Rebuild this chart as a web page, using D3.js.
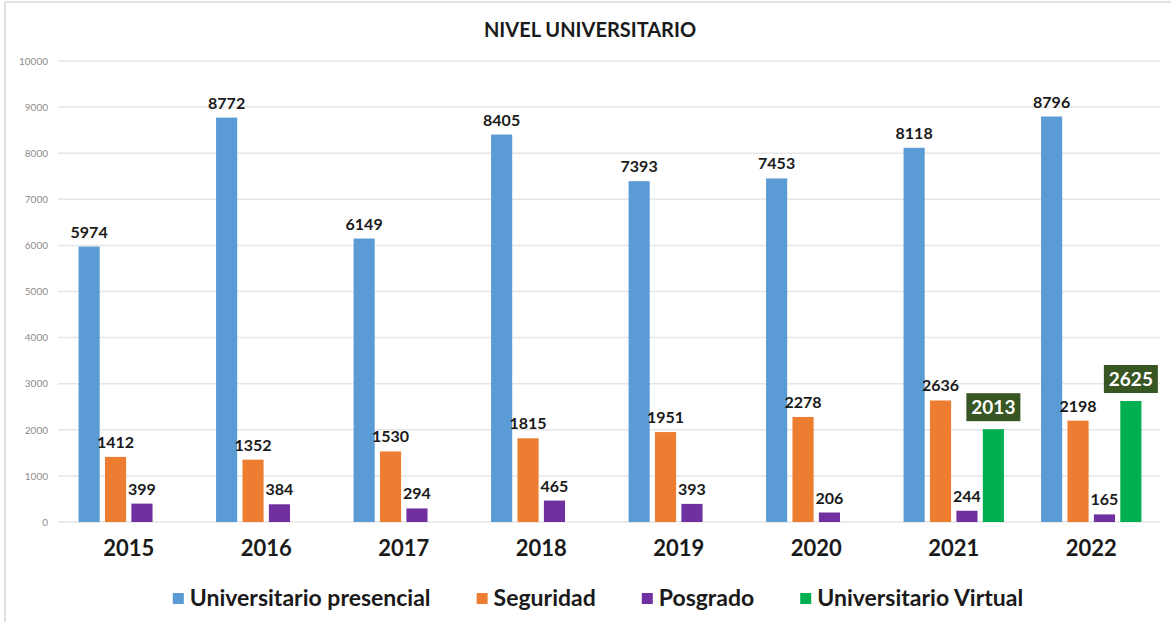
<!DOCTYPE html>
<html>
<head>
<meta charset="utf-8">
<script src="https://cdn.jsdelivr.net/npm/d3@7"></script>
<style>
  body { margin: 0; background: #fff; }
  svg { display: block; font-family: Lato, "Open Sans", sans-serif; }
</style>
</head>
<body>
<svg width="1171" height="622"></svg>
<script>
var years = ['2015', '2016', '2017', '2018', '2019', '2020', '2021', '2022'];
var series = ['Universitario presencial', 'Seguridad', 'Posgrado', 'Universitario Virtual'];
var presencial = [5974, 8772, 6149, 8405, 7393, 7453, 8118, 8796];
var seguridad = [1412, 1352, 1530, 1815, 1951, 2278, 2636, 2198];
var posgrado = [399, 384, 294, 465, 393, 206, 244, 165];
var virtual = [null, null, null, null, null, null, 2013, 2625];
var colors = ['#5B9BD5', '#ED7D31', '#7030A0', '#00B050'];
var yTicks = [0, 1000, 2000, 3000, 4000, 5000, 6000, 7000, 8000, 9000, 10000];

var svg = d3.select('svg');
var values = [presencial, seguridad, posgrado, virtual];

// frame
svg.append('line').attr('x1', 5).attr('x2', 5).attr('y1', 2).attr('y2', 622)
    .attr('stroke', '#d9d9d9').attr('stroke-width', 1.5);
svg.append('line').attr('x1', 5).attr('x2', 1171).attr('y1', 2).attr('y2', 2)
    .attr('stroke', '#d9d9d9').attr('stroke-width', 1.5);

var x = d3.scaleBand().domain(years).range([60, 1160]).paddingInner(0.27).paddingOuter(0.135);
var x1 = d3.scaleBand().domain(series).range([0, x.bandwidth()]).paddingInner(0.2);
var y = d3.scaleLinear().domain([0, 10000]).range([522, 61]);

// grid
svg.selectAll('.grid')
    .data(yTicks)
    .enter()
    .append('line')
    .attr('x1', 58)
    .attr('x2', 1160)
    .attr('y1', function(d){ return y(d) })
    .attr('y2', function(d){ return y(d) })
    .attr('stroke', '#e6e6e6')
    .attr('stroke-width', 1.5);

var yAxis = svg.append('g')
    .attr('transform', 'translate(48,0)')
    .call(d3.axisLeft(y).tickValues(yTicks).tickSize(0).tickPadding(0).tickFormat(d3.format('d')));
yAxis.select('.domain').remove();
yAxis.selectAll('text')
    .attr('fill', '#8c8c8c')
    .style('font-size', '10px')
    .style('font-family', 'Lato, sans-serif');

// title
svg.append('text')
    .attr('x', 590)
    .attr('y', 37)
    .attr('text-anchor', 'middle')
    .style('font-size', '20px')
    .style('font-weight', 'bold')
    .attr('fill', '#1a1a1a')
    .text('NIVEL UNIVERSITARIO');

// bars
var cells = [];
years.forEach(function(yr, i){
    series.forEach(function(s, j){
        if (values[j][i] != null) cells.push({year: yr, s: s, j: j, v: values[j][i]});
    });
});

svg.selectAll('.bar')
    .data(cells)
    .enter()
    .append('rect')
    .attr('x', function(d){ return x(d.year) + x1(d.s) })
    .attr('y', function(d){ return y(d.v) })
    .attr('width', x1.bandwidth())
    .attr('height', function(d){ return y(0) - y(d.v) })
    .attr('fill', function(d){ return colors[d.j] });

// value labels
var plain = cells.filter(function(d){ return d.j < 3 });
svg.selectAll('.lbl')
    .data(plain)
    .enter()
    .append('text')
    .attr('x', function(d){ return x(d.year) + x1(d.s) + x1.bandwidth() / 2 })
    .attr('y', function(d){ return y(d.v) - 9 })
    .attr('text-anchor', 'middle')
    .style('font-size', '16px')
    .style('font-weight', 'bold')
    .attr('fill', '#1a1a1a')
    .text(function(d){ return d.v });

var boxed = cells.filter(function(d){ return d.j == 3 });
var bg = svg.selectAll('.boxlbl')
    .data(boxed)
    .enter()
    .append('g')
    .attr('transform', function(d){
        return 'translate(' + (x(d.year) + x1(d.s) + x1.bandwidth() / 2) + ',' + (y(d.v) - 22) + ')';
    });
bg.append('rect')
    .attr('x', -27)
    .attr('y', -14)
    .attr('width', 54)
    .attr('height', 28)
    .attr('fill', '#375623');
bg.append('text')
    .attr('y', 7)
    .attr('text-anchor', 'middle')
    .style('font-size', '19px')
    .style('font-weight', 'bold')
    .attr('fill', '#ffffff')
    .text(function(d){ return d.v });

// x axis labels
var xAxis = svg.append('g')
    .attr('transform', 'translate(0,' + 530 + ')')
    .call(d3.axisBottom(x).tickSize(0).tickPadding(0));
xAxis.select('.domain').remove();
xAxis.selectAll('text')
    .attr('fill', '#1a1a1a')
    .attr('dy', '1.2em')
    .style('font-size', '22px')
    .style('font-weight', 'bold')
    .style('font-family', 'Lato, sans-serif');

// legend
var legend = svg.append('g');
var items = legend.selectAll('.item')
    .data(series)
    .enter()
    .append('g');
items.append('rect')
    .attr('y', -13)
    .attr('width', 11)
    .attr('height', 11)
    .attr('fill', function(d, i){ return colors[i] });
items.append('text')
    .attr('x', 17)
    .attr('y', 0)
    .style('font-size', '23px')
    .style('font-weight', 'bold')
    .attr('fill', '#1a1a1a')
    .text(function(d){ return d });

var gap = 46;
var pos = 0;
items.each(function(){
    var w = this.getBBox().width;
    d3.select(this).attr('transform', 'translate(' + pos + ',0)');
    pos += w + gap;
});
var total = pos - gap;
legend.attr('transform', 'translate(' + (598 - total / 2) + ',606)');
</script>
</body>
</html>
